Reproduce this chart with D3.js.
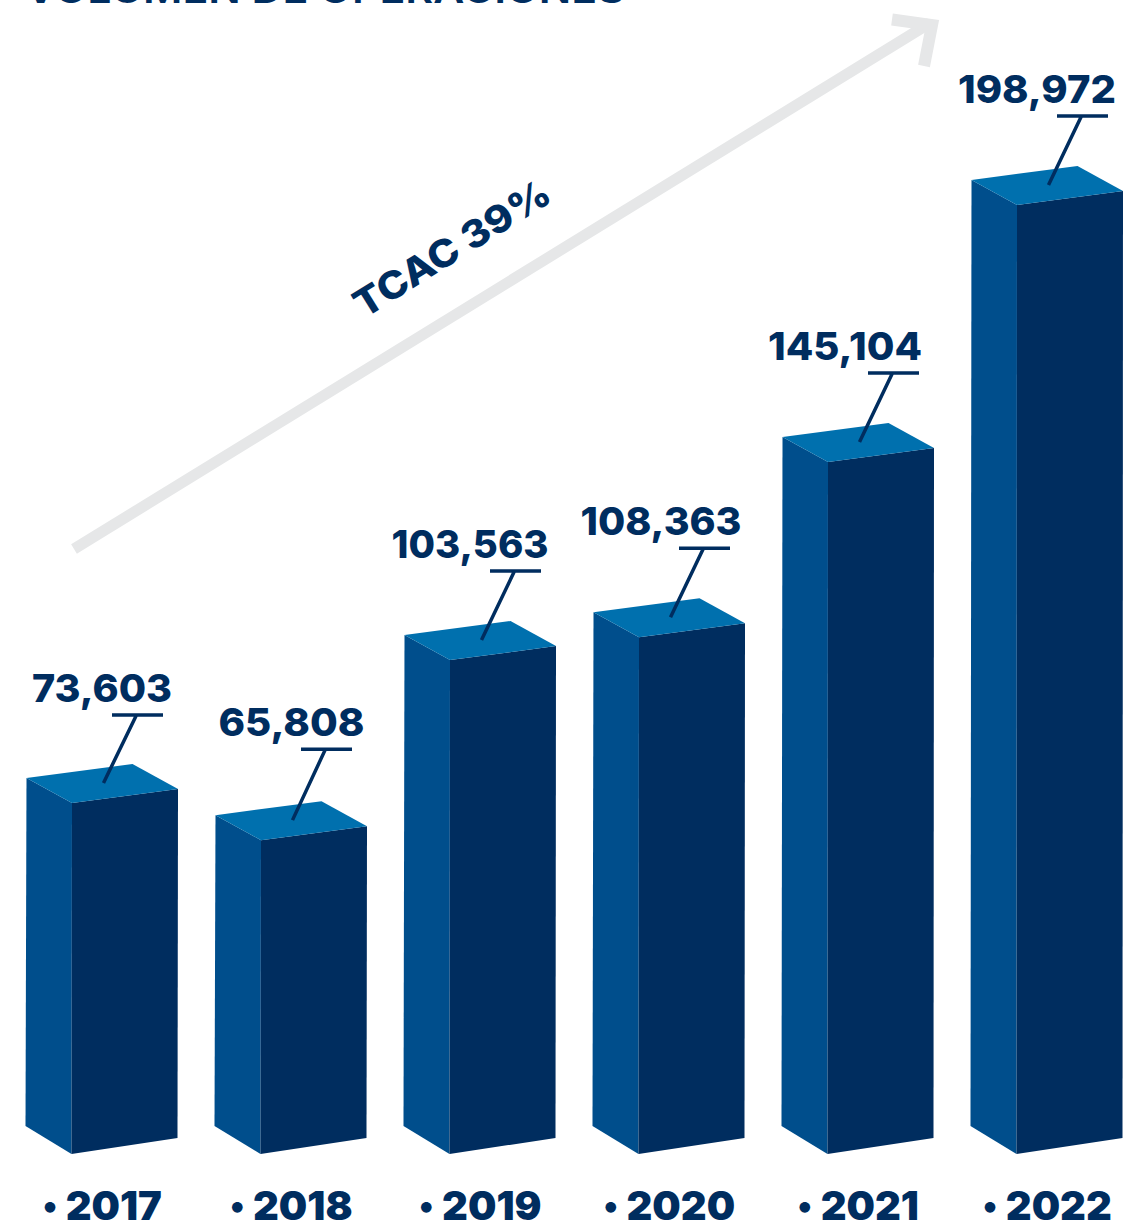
<!DOCTYPE html>
<html><head><meta charset="utf-8">
<script src="https://cdn.jsdelivr.net/npm/d3@7"></script>
<style>html,body{margin:0;padding:0;background:#fff;overflow:hidden}svg{display:block}text{font-family:"Inter","Open Sans",sans-serif;fill:#002d5f}</style>
</head><body><svg id="c" width="1123" height="1225"></svg>
<script>
const years = ["2017","2018","2019","2020","2021","2022"];
const values = [73603,65808,103563,108363,145104,198972];
const titleText = "VOLUMEN DE OPERACIONES";
const growthText = "TCAC 39%";
// label layout, kept apart from the data
const labelWidths = [140,146,157,161,154,158];
const labelShift = [75.5,76,65.5,67.5,62.5,65.5];
const leaderRise = [88,91,89,89,89,89];

const svg = d3.select("#c");
const x = d3.scalePoint().domain(years).range([26.5,971.5]);
const y = d3.scaleLinear().domain([0,198972]).range([1154,205]);
const fmt = d3.format(",");
const C = {front:"#002d5f",side:"#004e8c",top:"#0070ae",arrow:"#e6e7e8"};
const poly = p => p.map(d=>d.join(",")).join(" ");

svg.append("text").text(titleText).attr("x",25).attr("y",3)
  .attr("font-size",37).attr("font-weight",600).attr("textLength",600).attr("lengthAdjust","spacingAndGlyphs");

svg.append("line").attr("x1",74).attr("y1",549).attr("x2",930).attr("y2",23)
  .attr("stroke",C.arrow).attr("stroke-width",11);
svg.append("polyline").attr("points","892,19.5 932,25 924,66").attr("fill","none")
  .attr("stroke",C.arrow).attr("stroke-width",12).attr("stroke-linejoin","miter");

svg.append("text").text(growthText).attr("transform","translate(364,319) rotate(-32)")
  .attr("font-size",38).attr("font-weight",850).attr("textLength",224).attr("lengthAdjust","spacingAndGlyphs");

const rows = years.map((yr,i)=>({yr,v:values[i],w:labelWidths[i],s:labelShift[i],r:leaderRise[i]}));
const g = svg.selectAll("g.bar").data(rows).join("g").attr("class","bar");
const base = y(0);
g.append("polygon").attr("fill",C.side).attr("points",d=>{const a=x(d.yr),t=y(d.v);
  return poly([[a,t-25],[a+45.5,t],[a+45,base],[a-1,base-28]]);});
g.append("polygon").attr("fill",C.front).attr("points",d=>{const a=x(d.yr),t=y(d.v);
  return poly([[a+45.5,t],[a+151.5,t-14],[a+151,base-16],[a+45,base]]);});
g.append("polygon").attr("fill",C.top).attr("points",d=>{const a=x(d.yr),t=y(d.v);
  return poly([[a,t-25],[a+106,t-39],[a+151.5,t-14],[a+45.5,t]]);});
g.append("path").attr("fill","none").attr("stroke",C.front).attr("stroke-width",3.5)
  .attr("d",d=>{const a=x(d.yr),t=y(d.v);
    return `M${a+85.5},${t-d.r}H${a+136.5}M${a+110},${t-d.r}L${a+77},${t-20}`;});
g.append("text").text(d=>fmt(d.v)).attr("text-anchor","middle")
  .attr("x",d=>x(d.yr)+d.s).attr("y",d=>y(d.v)-d.r-13)
  .attr("font-size",38.5).attr("font-weight",850).attr("textLength",d=>d.w).attr("lengthAdjust","spacingAndGlyphs");
const yl = g.append("text").attr("text-anchor","middle")
  .attr("x",d=>x(d.yr)+76).attr("y",1220)
  .attr("font-size",40).attr("font-weight",900);
yl.append("tspan").attr("font-size",34).attr("dy",-3).text("•");
yl.append("tspan").attr("dy",3).attr("dx",9).text(d=>d.yr);
</script></body></html>
